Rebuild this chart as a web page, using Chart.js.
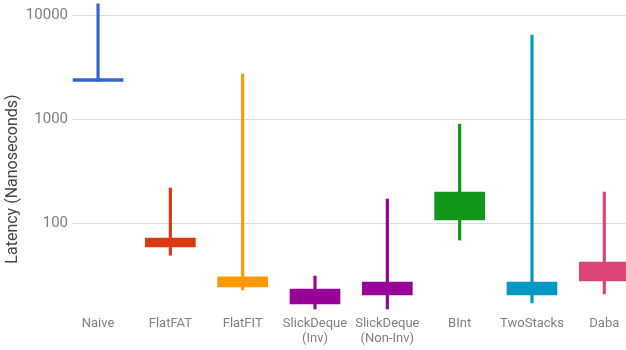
<!DOCTYPE html>
<html>
<head>
<meta charset="utf-8">
<script src="https://cdn.jsdelivr.net/npm/chart.js@4.4.1/dist/chart.umd.min.js"></script>
<style>
  html, body { margin: 0; padding: 0; background: #fff; overflow: hidden; }
  #wrap { width: 626px; height: 350px; }
</style>
</head>
<body>
<div id="wrap"><canvas id="c" width="626" height="350"></canvas></div>
<script>
// Latency distribution per sliding-window aggregation algorithm (nanoseconds, log scale)
const categories = ['Naive', 'FlatFAT', 'FlatFIT', ['SlickDeque', '(Inv)'], ['SlickDeque', '(Non-Inv)'], 'BInt', 'TwoStacks', 'Daba'];
const lowValues     = [2300, 49,   22.7, 14.9, 14.9, 68.6,  17.0, 20.8];
const boxLowValues  = [2300, 58.8, 24.3, 16.7, 20.3, 106.9, 20.3, 27.7];
const boxHighValues = [2450, 71.7, 30.3, 23.2, 27.1, 198.5, 27.1, 42.2];
const highValues    = [12800, 217, 2709, 30.9, 170,  894,   6428, 198.5];
const seriesColors  = ['#3366cc', '#dc3912', '#ff9900', '#990099', '#990099', '#109618', '#0099c6', '#dd4477'];
const yTickValues   = [100, 1000, 10000];
const yAxisTitle    = 'Latency (Nanoseconds)';

const boxes = categories.map((c, i) => ({ x: i, y: [boxLowValues[i], boxHighValues[i]] }));
const wicks = categories.map((c, i) => ({ x: i, y: [lowValues[i], highValues[i]] }));

// rotated axis title on the left
const yTitlePlugin = {
  id: 'yTitle',
  afterDraw(chart) {
    const ctx = chart.ctx;
    ctx.save();
    ctx.translate(13, 179);
    ctx.rotate(-Math.PI / 2);
    ctx.font = '16px Roboto';
    ctx.fillStyle = '#444444';
    ctx.textAlign = 'center';
    ctx.textBaseline = 'middle';
    ctx.fillText(yAxisTitle, 0, 0);
    ctx.restore();
  }
};

new Chart(document.getElementById('c'), {
  type: 'bar',
  data: {
    datasets: [
      {
        data: wicks,
        backgroundColor: seriesColors,
        borderWidth: 0,
        barThickness: 2.5,
        grouped: false,
        order: 2
      },
      {
        data: boxes,
        backgroundColor: seriesColors,
        borderWidth: 0,
        barThickness: 50,
        grouped: false,
        order: 1
      }
    ]
  },
  options: {
    responsive: false,
    animation: false,
    layout: { padding: 0 },
    plugins: { legend: { display: false }, tooltip: { enabled: false } },
    scales: {
      x: {
        type: 'linear',
        offset: false,
        min: -0.36,
        max: 7.3,
        grid: { display: false, drawTicks: false, offset: false },
        border: { display: false },
        afterBuildTicks(scale) { scale.ticks = categories.map((c, i) => ({ value: i })); },
        afterFit(scale) {
          scale.height = 40;
          scale.paddingLeft = 0;
          scale.paddingRight = 0;
        },
        ticks: {
          autoSkip: false,
          maxRotation: 0,
          padding: 6,
          color: '#7f7f7f',
          font: { family: 'Roboto', size: 13, lineHeight: 1.15 },
          callback: (v) => categories[v]
        }
      },
      y: {
        type: 'logarithmic',
        min: 14.57,
        max: 13941,
        grid: { color: '#dcdcdc', drawTicks: false },
        border: { display: false },
        afterBuildTicks(scale) { scale.ticks = yTickValues.map(v => ({ value: v })); },
        afterFit(scale) {
          scale.width = 72;
          scale.paddingTop = 0;
          scale.paddingBottom = 0;
        },
        ticks: {
          padding: 4,
          color: '#7f7f7f',
          font: { family: 'Roboto', size: 15 },
          callback: (v) => String(v)
        }
      }
    }
  },
  plugins: [yTitlePlugin]
});
</script>
</body>
</html>
